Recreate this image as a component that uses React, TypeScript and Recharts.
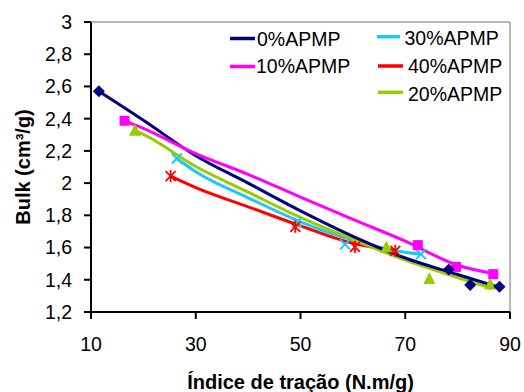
import React from 'react';
import {
  ComposedChart,
  Line,
  Scatter,
  XAxis,
  YAxis,
  ReferenceLine,
  Legend,
} from 'recharts';

// Measured points (tensile index N.m/g, bulk cm³/g) for each APMP blend
const apmp0Points = [
  { x: 11.5, y: 2.57 },
  { x: 78.3, y: 1.464 },
  { x: 82.4, y: 1.367 },
  { x: 88.0, y: 1.356 },
];
const apmp10Points = [
  { x: 16.4, y: 2.387 },
  { x: 72.4, y: 1.615 },
  { x: 79.7, y: 1.48 },
  { x: 86.8, y: 1.435 },
];
const apmp30Points = [
  { x: 26.4, y: 2.153 },
  { x: 49.3, y: 1.755 },
  { x: 58.5, y: 1.62 },
  { x: 73.0, y: 1.559 },
];
const apmp40Points = [
  { x: 25.2, y: 2.043 },
  { x: 49.0, y: 1.729 },
  { x: 60.4, y: 1.604 },
  { x: 68.1, y: 1.58 },
];
const apmp20Points = [
  { x: 18.4, y: 2.325 },
  { x: 66.4, y: 1.6 },
  { x: 74.6, y: 1.405 },
  { x: 86.2, y: 1.37 },
];

// Trend curves for each blend
const apmp0Trend = [
  { x: 11.5, y: 2.57 },
  { x: 20, y: 2.39 },
  { x: 30, y: 2.17 },
  { x: 40, y: 2.0 },
  { x: 50, y: 1.828 },
  { x: 60, y: 1.67 },
  { x: 70, y: 1.535 },
  { x: 80, y: 1.433 },
  { x: 88, y: 1.352 },
];
const apmp10Trend = [
  { x: 16.4, y: 2.387 },
  { x: 20, y: 2.34 },
  { x: 30, y: 2.183 },
  { x: 40, y: 2.054 },
  { x: 50, y: 1.913 },
  { x: 60, y: 1.775 },
  { x: 70, y: 1.64 },
  { x: 80, y: 1.49 },
  { x: 86.8, y: 1.439 },
];
const apmp30Trend = [
  { x: 26.4, y: 2.153 },
  { x: 30, y: 2.07 },
  { x: 40, y: 1.909 },
  { x: 50, y: 1.76 },
  { x: 60, y: 1.646 },
  { x: 70, y: 1.571 },
  { x: 73, y: 1.559 },
];
const apmp40Trend = [
  { x: 25.2, y: 2.043 },
  { x: 30, y: 1.972 },
  { x: 40, y: 1.853 },
  { x: 50, y: 1.735 },
  { x: 60, y: 1.627 },
  { x: 68.1, y: 1.584 },
];
const apmp20Trend = [
  { x: 18.4, y: 2.325 },
  { x: 20, y: 2.302 },
  { x: 30, y: 2.103 },
  { x: 40, y: 1.944 },
  { x: 50, y: 1.787 },
  { x: 60, y: 1.65 },
  { x: 70, y: 1.522 },
  { x: 80, y: 1.414 },
  { x: 86.5, y: 1.346 },
];

const xTicks = [10, 30, 50, 70, 90];
const yTicks = [1.2, 1.4, 1.6, 1.8, 2, 2.2, 2.4, 2.6, 2.8, 3];

const NAVY = '#000080';
const MAGENTA = '#FF00FF';
const CYAN = '#1EC8F5';
const RED = '#FF0000';
const GREEN = '#99CC00';

const FONT = '"Liberation Sans", Arial, sans-serif';

const Diamond = (p: any) => (
  <polygon
    points={`${p.cx},${p.cy - 6} ${p.cx + 6},${p.cy} ${p.cx},${p.cy + 6} ${p.cx - 6},${p.cy}`}
    fill={NAVY}
  />
);
const Square = (p: any) => (
  <rect x={p.cx - 5} y={p.cy - 5} width={10} height={10} fill={MAGENTA} />
);
const Cross = (p: any) => (
  <g stroke={CYAN} strokeWidth={2}>
    <line x1={p.cx - 5} y1={p.cy - 5} x2={p.cx + 5} y2={p.cy + 5} />
    <line x1={p.cx - 5} y1={p.cy + 5} x2={p.cx + 5} y2={p.cy - 5} />
  </g>
);
const Star = (p: any) => (
  <g stroke={RED} strokeWidth={1.8}>
    <line x1={p.cx - 5} y1={p.cy - 5} x2={p.cx + 5} y2={p.cy + 5} />
    <line x1={p.cx - 5} y1={p.cy + 5} x2={p.cx + 5} y2={p.cy - 5} />
    <line x1={p.cx} y1={p.cy - 6} x2={p.cx} y2={p.cy + 6} />
  </g>
);
const Triangle = (p: any) => (
  <polygon
    points={`${p.cx},${p.cy - 7} ${p.cx + 6},${p.cy + 5} ${p.cx - 6},${p.cy + 5}`}
    fill={GREEN}
  />
);

const legendItems = [
  { label: '0%APMP', color: NAVY, x1: 230, x2: 255, ly: 38.5, tx: 257, ty: 39 },
  { label: '10%APMP', color: MAGENTA, x1: 230, x2: 255, ly: 66.5, tx: 256, ty: 66 },
  { label: '30%APMP', color: CYAN, x1: 377, x2: 400, ly: 36.7, tx: 404.5, ty: 38 },
  { label: '40%APMP', color: RED, x1: 378, x2: 403, ly: 66, tx: 408, ty: 66 },
  { label: '20%APMP', color: GREEN, x1: 378, x2: 403, ly: 92.3, tx: 408, ty: 94 },
];

const LegendBox = () => (
  <svg width={524} height={110} style={{ display: 'block' }}>
    {legendItems.map((it) => (
      <g key={it.label}>
        <line x1={it.x1} x2={it.x2} y1={it.ly} y2={it.ly} stroke={it.color} strokeWidth={3.5} />
        <text
          x={it.tx}
          y={it.ty}
          dominantBaseline="central"
          fontFamily={FONT}
          fontSize={19.5}
          fill="#000"
        >
          {it.label}
        </text>
      </g>
    ))}
  </svg>
);

const fmt = (v: number) => String(v).replace('.', ',');

export default function App() {
  return (
    <div style={{ position: 'absolute', left: 0, top: 0, background: '#fff' }}>
      <ComposedChart
        width={524}
        height={392}
        margin={{ top: 22, right: 14, left: 0, bottom: 0 }}
      >
        <XAxis
          type="number"
          dataKey="x"
          domain={[10, 90]}
          ticks={xTicks}
          allowDataOverflow
          height={80}
          stroke="#000"
          strokeWidth={2}
          tickSize={7}
          tickMargin={18}
          tick={{ fill: '#000', fontSize: 19.5, fontFamily: FONT }}
          label={(props: any) => {
            const vb = props.viewBox;
            return (
              <text
                x={vb.x + vb.width / 2}
                y={vb.y + 76.5}
                textAnchor="middle"
                fontFamily={FONT}
                fontWeight="bold"
                fontSize={20}
                fill="#000"
              >
                Índice de tração (N.m/g)
              </text>
            );
          }}
        />
        <YAxis
          type="number"
          dataKey="y"
          domain={[1.2, 3]}
          ticks={yTicks}
          allowDataOverflow
          width={91}
          stroke="#000"
          strokeWidth={2}
          tickSize={7}
          tickMargin={12}
          tickFormatter={fmt}
          tick={{ fill: '#000', fontSize: 19.5, fontFamily: FONT }}
          label={(props: any) => {
            const vb = props.viewBox;
            const cx = vb.x + 23;
            const cy = vb.y + vb.height / 2;
            return (
              <text
                x={cx}
                y={cy}
                transform={`rotate(-90 ${cx} ${cy})`}
                textAnchor="middle"
                dominantBaseline="central"
                fontFamily={FONT}
                fontWeight="bold"
                fontSize={20}
                fill="#000"
              >
                Bulk (cm³/g)
              </text>
            );
          }}
        />
        <ReferenceLine y={3} stroke="#707070" strokeWidth={1} />
        <ReferenceLine x={90} stroke="#707070" strokeWidth={1} />

        <Line data={apmp30Trend} dataKey="y" stroke={CYAN} strokeWidth={3} dot={false} type="monotone" isAnimationActive={false} legendType="none" />
        <Line data={apmp40Trend} dataKey="y" stroke={RED} strokeWidth={3} dot={false} type="monotone" isAnimationActive={false} legendType="none" />
        <Line data={apmp20Trend} dataKey="y" stroke={GREEN} strokeWidth={3} dot={false} type="monotone" isAnimationActive={false} legendType="none" />
        <Line data={apmp0Trend} dataKey="y" stroke={NAVY} strokeWidth={3} dot={false} type="monotone" isAnimationActive={false} legendType="none" />
        <Line data={apmp10Trend} dataKey="y" stroke={MAGENTA} strokeWidth={3} dot={false} type="monotone" isAnimationActive={false} legendType="none" />

        <Scatter data={apmp20Points} dataKey="y" shape={Triangle} isAnimationActive={false} legendType="none" />
        <Scatter data={apmp30Points} dataKey="y" shape={Cross} isAnimationActive={false} legendType="none" />
        <Scatter data={apmp40Points} dataKey="y" shape={Star} isAnimationActive={false} legendType="none" />
        <Scatter data={apmp10Points} dataKey="y" shape={Square} isAnimationActive={false} legendType="none" />
        <Scatter data={apmp0Points} dataKey="y" shape={Diamond} isAnimationActive={false} legendType="none" />

        <Legend
          layout="horizontal"
          verticalAlign="middle"
          align="center"
          content={() => <LegendBox />}
          wrapperStyle={{ position: 'absolute', left: 0, top: 0, width: 524, height: 110, margin: 0 }}
        />
      </ComposedChart>
    </div>
  );
}
